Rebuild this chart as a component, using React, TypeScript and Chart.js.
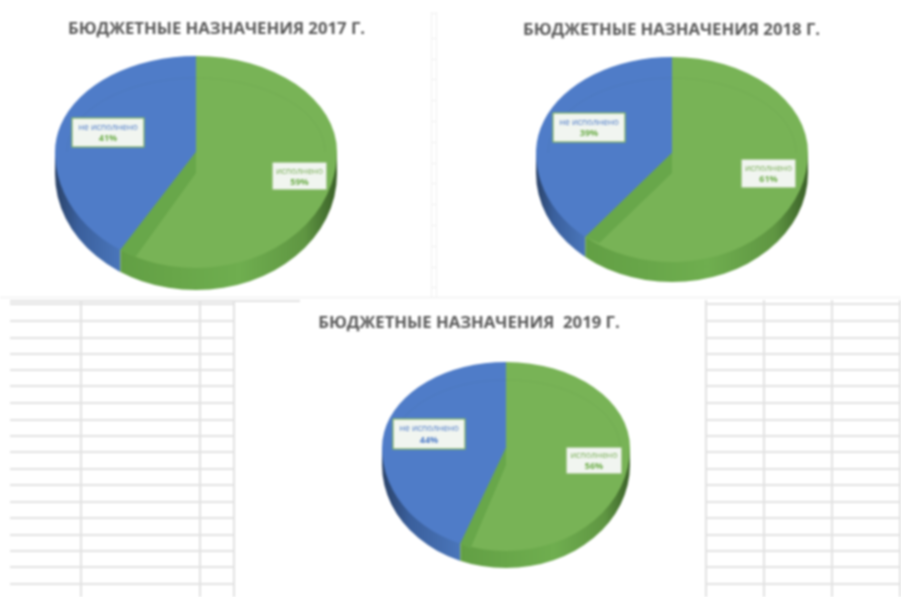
import React, { useEffect, useRef } from "react";
import { Chart, registerables } from "chart.js";

Chart.register(...registerables);

const categories = ["исполнено", "не исполнено"];
const values2017 = [59, 41];
const values2018 = [61, 39];
const values2019 = [56, 44];
const titles = ["БЮДЖЕТНЫЕ НАЗНАЧЕНИЯ 2017 Г.", "БЮДЖЕТНЫЕ НАЗНАЧЕНИЯ 2018 Г.", "БЮДЖЕТНЫЕ НАЗНАЧЕНИЯ  2019 Г."];

const sheetRows = [320, 337, 353, 369, 385, 402, 419, 435, 451, 468, 484, 501, 517, 534, 550, 566, 583];
const leftCols = [80, 199, 233];
const rightCols = [705, 763, 831, 899];
const rulerTicks = [13, 38, 59, 79, 100, 121, 142, 163, 183, 204, 225, 246, 267, 287];

const GREEN = "#78b356";
const BLUE = "#4f7cc8";

type Box = { x: number; y: number; w: number; h: number };
type Panel = {
  left: number; top: number; width: number; height: number;
  values: number[]; title: string;
  cx: number; cy: number; rx: number; ryUp: number; ryDown: number; wall: number;
  band: number[]; ringInset: number[];
  boxes: Box[]; titleTop: number; labelColors: string[];
};

const panels: Panel[] = [
  { left: 0, top: 0, width: 433, height: 297, values: values2017, title: titles[0],
    cx: 196, cy: 152, rx: 141, ryUp: 96, ryDown: 116, wall: 22, band: [21, 15, 7], ringInset: [12, 22],
    boxes: [{ x: 272, y: 162, w: 55, h: 28 }, { x: 72, y: 118, w: 72, h: 29 }], titleTop: 19,
    labelColors: ["#6fae4c", "#6fae4c"] },
  { left: 442, top: 0, width: 459, height: 297, values: values2018, title: titles[1],
    cx: 672, cy: 153, rx: 136, ryUp: 96, ryDown: 109, wall: 20, band: [20, 14, 6], ringInset: [12, 21],
    boxes: [{ x: 741, y: 159, w: 55, h: 29 }, { x: 553, y: 113, w: 72, h: 29 }], titleTop: 20,
    labelColors: ["#6fae4c", "#6fae4c"] },
  { left: 233, top: 302, width: 472, height: 295, values: values2019, title: titles[2],
    cx: 506, cy: 448, rx: 124, ryUp: 86, ryDown: 103, wall: 17, band: [17, 10, 5], ringInset: [10, 18],
    boxes: [{ x: 566, y: 447, w: 56, h: 27 }, { x: 393, y: 419, w: 72, h: 30 }], titleTop: 11,
    labelColors: ["#6fae4c", "#4f7cc8"] },
];

const piePlugin = {
  id: "tiltedPie",
  beforeDatasetsDraw(chart: any) {
    const p: Panel = chart.options.plugins.tiltedPie.panel;
    const ctx: CanvasRenderingContext2D = chart.ctx;
    const cx = p.cx - p.left, cy = p.cy - p.top;
    const arcs = chart.getDatasetMeta(0).data;
    const split = arcs[0].endAngle;
    const sx = cx + Math.cos(split) * p.rx;
    const sy = cy + Math.sin(split) * p.ryDown;

    // side wall
    const wallShape = () => {
      ctx.beginPath();
      ctx.rect(cx - p.rx, cy, p.rx * 2, p.wall);
      ctx.ellipse(cx, cy + p.wall, p.rx, p.ryDown, 0, 0, Math.PI);
      ctx.closePath();
    };
    const blueGrad = ctx.createLinearGradient(cx - p.rx, 0, sx, 0);
    blueGrad.addColorStop(0, "#2a4268");
    blueGrad.addColorStop(0.35, "#3a5f9c");
    blueGrad.addColorStop(1, "#4a76bb");
    const greenGrad = ctx.createLinearGradient(sx, 0, cx + p.rx, 0);
    greenGrad.addColorStop(0, "#629f44");
    greenGrad.addColorStop(0.55, "#6fae4f");
    greenGrad.addColorStop(0.85, "#5f9642");
    greenGrad.addColorStop(1, "#3a6028");
    ctx.save();
    ctx.beginPath();
    ctx.rect(0, 0, sx, chart.height);
    ctx.clip();
    wallShape();
    ctx.fillStyle = blueGrad;
    ctx.fill();
    ctx.restore();
    ctx.save();
    ctx.beginPath();
    ctx.rect(sx, 0, chart.width, chart.height);
    ctx.clip();
    wallShape();
    ctx.fillStyle = greenGrad;
    ctx.fill();
    ctx.restore();

    // top face: the library's arcs, stretched into a tilted ellipse
    const half = (yFrom: number, h: number, ry: number) => {
      ctx.save();
      ctx.beginPath();
      ctx.rect(0, yFrom, chart.width, h);
      ctx.clip();
      ctx.translate(cx, cy);
      arcs.forEach((a: any) => {
        ctx.save();
        ctx.scale(p.rx / a.outerRadius, ry / a.outerRadius);
        ctx.translate(-a.x, -a.y);
        a.draw(ctx);
        ctx.restore();
      });
      ctx.restore();
    };
    half(0, cy, p.ryUp);
    half(cy, chart.height - cy, p.ryDown);

    // inner bevel ring
    ctx.save();
    ctx.strokeStyle = "rgba(40,70,40,0.04)";
    ctx.lineWidth = 1.5;
    ctx.beginPath();
    ctx.ellipse(cx, cy, p.rx - p.ringInset[0], p.ryUp - p.ringInset[1], 0, Math.PI, Math.PI * 2);
    ctx.stroke();
    ctx.restore();

    // cut face of the front slice
    ctx.save();
    ctx.fillStyle = "#68a74a";
    ctx.beginPath();
    ctx.moveTo(cx, cy);
    ctx.lineTo(cx, cy + p.band[0]);
    ctx.lineTo(sx + p.band[1], sy + p.band[2]);
    ctx.lineTo(sx, sy);
    ctx.closePath();
    ctx.fill();
    ctx.restore();
    return false;
  },
  afterDraw(chart: any) {
    const p: Panel = chart.options.plugins.tiltedPie.panel;
    const ctx: CanvasRenderingContext2D = chart.ctx;
    p.boxes.forEach((b, i) => {
      const x = b.x - p.left, y = b.y - p.top;
      ctx.save();
      ctx.fillStyle = "#f1f5f0";
      ctx.strokeStyle = "#7fb35e";
      ctx.lineWidth = 1.2;
      ctx.fillRect(x, y, b.w, b.h);
      ctx.strokeRect(x, y, b.w, b.h);
      ctx.textAlign = "center";
      ctx.textBaseline = "middle";
      ctx.fillStyle = i === 1 ? "#4f7cc8" : "#79ae58";
      ctx.font = "8.8px 'Open Sans'";
      ctx.fillText(categories[i], x + b.w / 2, y + b.h * 0.33);
      ctx.fillStyle = p.labelColors[i];
      ctx.font = "bold 9px 'Open Sans'";
      ctx.fillText(p.values[i] + "%", x + b.w / 2, y + b.h * 0.72);
      ctx.restore();
    });
  },
};

function Pie({ panel }: { panel: Panel }) {
  const ref = useRef<HTMLCanvasElement | null>(null);
  useEffect(() => {
    const chart = new Chart(ref.current as HTMLCanvasElement, {
      type: "doughnut",
      data: {
        labels: categories,
        datasets: [{ data: panel.values, backgroundColor: [GREEN, BLUE], borderWidth: 0 }],
      },
      options: {
        responsive: false,
        animation: false,
        cutout: 0,
        events: [],
        plugins: {
          legend: { display: false },
          tooltip: { enabled: false },
          title: {
            display: true,
            text: panel.title,
            color: "#5a5a5a",
            font: { family: "'Open Sans'", size: 16.7, weight: "bold" },
            padding: { top: panel.titleTop, bottom: 10 },
          },
          tiltedPie: { panel },
        },
      } as any,
      plugins: [piePlugin as any],
    });
    return () => chart.destroy();
  }, [panel]);
  return (
    <canvas
      ref={ref}
      width={panel.width}
      height={panel.height}
      style={{ position: "absolute", left: panel.left, top: panel.top, width: panel.width, height: panel.height }}
    />
  );
}

const line = (left: number, top: number, width: number, height: number, key: string, color = "#e2e2e2") => (
  <div key={key} style={{ position: "absolute", left, top, width, height, background: color }} />
);

export default function App() {
  return (
    <div style={{ position: "fixed", left: 0, top: 0, width: 901, height: 597, overflow: "hidden", background: "#fff", filter: "blur(0.8px)" }}>
      {sheetRows.map((y) => line(10, y, 223, 1.5, "l" + y))}
      {sheetRows.map((y) => line(705, y, 196, 1.5, "r" + y))}
      {leftCols.map((x) => line(x, 300, 1.5, 297, "lc" + x))}
      {rightCols.map((x) => line(x, 300, 1.5, 297, "rc" + x))}
      {line(0, 297, 901, 1, "h1", "#ececec")}
      {line(10, 300, 290, 1.5, "h2")}
      {line(10, 303, 223, 1.5, "h3")}
      {line(705, 303, 196, 1.5, "h4")}
      {line(431, 12, 1, 286, "v1", "#f0f0f0")}
      {line(436, 12, 1, 286, "v2", "#f0f0f0")}
      {rulerTicks.map((y) => line(431, y, 5, 1, "t" + y, "#f0f0f0"))}
      {panels.map((p) => <Pie key={p.title} panel={p} />)}
    </div>
  );
}
